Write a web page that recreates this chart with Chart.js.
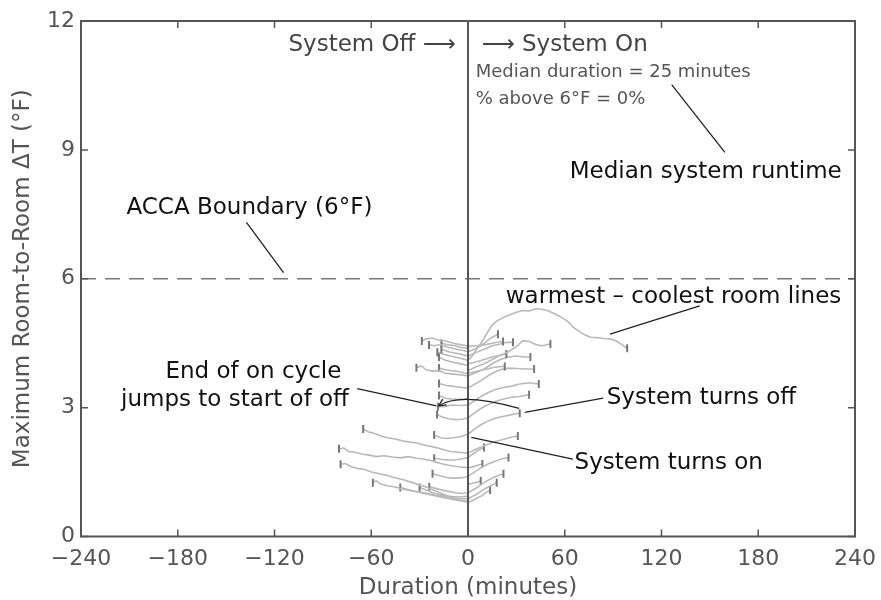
<!DOCTYPE html>
<html>
<head>
<meta charset="utf-8">
<script src="https://cdn.jsdelivr.net/npm/chart.js@4"></script>
<style>
  html, body { margin: 0; background: #fff; }
  canvas { display: block; }
</style>
</head>
<body>
<canvas id="chart" width="881" height="600"></canvas>
<script>
// axis ticks
const xTicks = [-240, -180, -120, -60, 0, 60, 120, 180, 240];
const yTicks = [0, 3, 6, 9, 12];
const accaLimit = 6;

// off cycles: [minutes before turn-on, max room-to-room dT]
const offCycles = [
  [[-28.6,4.55],[-26,4.6],[-22,4.62],[-18,4.57],[-14,4.55],[-9,4.5],[-4,4.46],[0,4.44]],
  [[-24.2,4.46],[-21,4.44],[-17,4.47],[-12,4.4],[-7,4.36],[-3,4.33],[0,4.3]],
  [[-16.5,4.5],[-12,4.46],[-8,4.44],[-4,4.4],[0,4.38]],
  [[-16.5,4.36],[-12,4.3],[-8,4.27],[-4,4.24],[0,4.2]],
  [[-19,4.29],[-15,4.24],[-11,4.2],[-6,4.16],[-2,4.12],[0,4.1]],
  [[-18,4.18],[-14,4.1],[-10,4.06],[-6,4.03],[-2,4.0],[0,3.98]],
  [[-32,3.93],[-29,3.97],[-26,3.88],[-22,3.85],[-18,3.86],[-14,3.8],[-9,3.78],[-4,3.76],[0,3.74]],
  [[-18,3.92],[-14,3.88],[-10,3.86],[-6,3.84],[-2,3.8],[0,3.8]],
  [[-18,3.56],[-14,3.52],[-10,3.5],[-6,3.48],[-2,3.46],[0,3.47]],
  [[-18,3.28],[-14,3.22],[-10,3.2],[-6,3.19],[-2,3.2],[0,3.22]],
  [[-18.6,3.02],[-14,3.03],[-10,3.06],[-5,3.05],[0,3.06]],
  [[-19.2,2.84],[-16,2.78],[-12,2.74],[-8,2.72],[-4,2.73],[0,2.76]],
  [[-65,2.5],[-62,2.44],[-58,2.4],[-54,2.34],[-50,2.3],[-45,2.27],[-40,2.22],[-36,2.2],[-31,2.17],[-26,2.12],[-21,2.08],[-16,2.03],[-11,1.98],[-6,1.96],[0,1.94]],
  [[-21,2.36],[-17,2.3],[-13,2.28],[-9,2.3],[-5,2.32],[0,2.38]],
  [[-80,2.04],[-77,2.06],[-74,1.98],[-70,1.96],[-66,1.92],[-62,1.9],[-57,1.86],[-52,1.88],[-47,1.85],[-42,1.83],[-37,1.86],[-32,1.82],[-27,1.8],[-22,1.76],[-17,1.7],[-12,1.66],[-7,1.63],[0,1.6]],
  [[-21,1.82],[-17,1.8],[-13,1.78],[-9,1.78],[-5,1.8],[0,1.84]],
  [[-79,1.68],[-76,1.7],[-72,1.62],[-68,1.58],[-64,1.56],[-60,1.5],[-55,1.46],[-50,1.42],[-45,1.36],[-40,1.32],[-35,1.26],[-30,1.2],[-25,1.14],[-20,1.06],[-15,0.98],[-10,0.9],[-5,0.84],[0,0.8]],
  [[-22,1.46],[-18,1.42],[-14,1.38],[-10,1.36],[-6,1.36],[-2,1.38],[0,1.4]],
  [[-59,1.25],[-57,1.3],[-54,1.22],[-50,1.18],[-46,1.16],[-42,1.12],[-37,1.08],[-32,1.04],[-27,1.0],[-22,0.96],[-17,0.92],[-12,0.88],[-6,0.84],[0,0.82]],
  [[-42,1.14],[-38,1.1],[-34,1.06],[-30,1.04],[-25,1.0],[-20,0.96],[-15,0.93],[-10,0.9],[-5,0.88],[0,0.88]],
  [[-30,1.14],[-26,1.08],[-22,1.02],[-18,0.98],[-14,0.95],[-10,0.93],[-5,0.92],[0,0.94]],
  [[-24,1.16],[-20,1.12],[-16,1.08],[-12,1.05],[-8,1.02],[-4,1.0],[0,1.02]],
];

// on cycles: [minutes after turn-on, max room-to-room dT]
const onCycles = [
  [[0,4.1],[3,4.22],[6,4.4],[9,4.55],[12,4.75],[15,4.92],[18,5.02],[22,5.1],[26,5.16],[30,5.22],[34,5.26],[38,5.25],[42,5.3],[46,5.29],[50,5.25],[54,5.18],[58,5.1],[62,5.0],[65,4.88],[68,4.8],[72,4.7],[76,4.64],[80,4.63],[84,4.61],[88,4.6],[92,4.55],[95,4.48],[98.7,4.38]],
  [[0,3.86],[5,3.95],[10,4.02],[15,4.12],[20,4.22],[25,4.3],[30,4.42],[34,4.56],[38,4.54],[42,4.47],[46,4.44],[51.1,4.48]],
  [[0,4.3],[4,4.36],[8,4.44],[12,4.56],[15,4.64],[18.6,4.71]],
  [[0,4.42],[5,4.44],[10,4.46],[15,4.5],[18,4.52],[21.7,4.54]],
  [[0,4.2],[5,4.28],[10,4.36],[15,4.44],[20,4.48],[24,4.52],[27.9,4.52]],
  [[0,4.02],[5,4.06],[10,4.12],[15,4.18],[20,4.22],[23.8,4.25]],
  [[0,3.74],[5,3.82],[10,3.9],[15,4.02],[20,4.12],[25,4.18],[30,4.2],[35,4.18],[38.7,4.18]],
  [[0,3.8],[5,3.84],[10,3.88],[15,3.93],[19,3.95],[22.8,3.96]],
  [[0,3.46],[5,3.56],[10,3.68],[15,3.8],[20,3.88],[25,3.92],[30,3.91],[35,3.9],[41,3.9]],
  [[0,3.06],[4,3.16],[8,3.26],[12,3.34],[17,3.42],[22,3.47],[27,3.5],[32,3.55],[38,3.58],[43.9,3.55]],
  [[0,2.76],[4,2.88],[8,2.98],[12,3.06],[17,3.14],[22,3.2],[27,3.24],[32,3.26],[37.9,3.3]],
  [[0,2.38],[4,2.5],[8,2.6],[12,2.68],[16,2.74],[20,2.78],[25,2.82],[29,2.85],[32.1,2.87]],
  [[0,1.94],[4,2.02],[8,2.08],[12,2.14],[16,2.2],[20,2.24],[24,2.28],[28,2.32],[30.9,2.34]],
  [[0,1.84],[3,1.92],[6,2.0],[9.9,2.07]],
  [[0,1.4],[4,1.5],[8,1.6],[12,1.68],[16,1.74],[20,1.8],[25.1,1.84]],
  [[0,1.6],[3,1.62],[6,1.66],[8.9,1.69]],
  [[0,1.02],[4,1.1],[8,1.2],[12,1.3],[16,1.38],[19,1.42],[22,1.46]],
  [[0,1.22],[3,1.24],[6,1.27],[7.9,1.29]],
  [[0,0.88],[3,0.94],[6,1.0],[9,1.08],[12,1.14],[15,1.2],[17.8,1.25]],
  [[0,0.8],[3,0.84],[6,0.9],[9,0.96],[11,1.02],[13.7,1.08]],
];

// annotation texts, placed in data units
const labels = [
  { text: "System Off \u27F6", x: -7.6, y: 11.45, align: "right", size: 23, color: "#444" },
  { text: "\u27F6 System On", x: 8.5, y: 11.45, align: "left", size: 23, color: "#444" },
  { text: "Median duration = 25 minutes", x: 4.8, y: 10.8, align: "left", size: 18, color: "#555" },
  { text: "% above 6\u00B0F = 0%", x: 4.8, y: 10.17, align: "left", size: 18, color: "#555" },
  { text: "Median system runtime", x: 63.1, y: 8.49, align: "left", size: 23, color: "#111" },
  { text: "ACCA Boundary (6\u00B0F)", x: -211.8, y: 7.65, align: "left", size: 23, color: "#111" },
  { text: "warmest \u2013 coolest room lines", x: 23.4, y: 5.58, align: "left", size: 23, color: "#111" },
  { text: "End of on cycle", x: -133.1, y: 3.82, align: "center", size: 23, color: "#111" },
  { text: "jumps to start of off", x: -144.5, y: 3.18, align: "center", size: 23, color: "#111" },
  { text: "System turns off", x: 86.0, y: 3.23, align: "left", size: 23, color: "#111" },
  { text: "System turns on", x: 66.1, y: 1.71, align: "left", size: 23, color: "#111" },
];

// leader lines [x1, y1, x2, y2] in data units
const leaders = [
  [126.3, 10.52, 159.3, 8.94],
  [-137.4, 7.31, -114.4, 6.14],
  [-68.7, 3.44, -19.6, 3.04],
  [35.2, 2.89, 83.8, 3.22],
  [2.1, 2.31, 65.0, 1.80],
  [88, 4.71, 143.7, 5.37],
];

// curved arrow: start, control, end
const jumpArrow = [[31.7, 2.98], [-4.8, 3.37], [-18.2, 3.04]];

const FONT = "'DejaVu Sans', sans-serif";
const toXY = arr => arr.map(p => ({ x: p[0], y: p[1] }));

const datasets = [];
// system on/off divider and ACCA boundary
datasets.push({
  data: [{ x: 0, y: yTicks[0] }, { x: 0, y: yTicks[yTicks.length - 1] }],
  showLine: true, borderColor: "#555", borderWidth: 2, pointRadius: 0,
});
datasets.push({
  data: [{ x: xTicks[0], y: accaLimit }, { x: xTicks[xTicks.length - 1], y: accaLimit }],
  showLine: true, borderColor: "#777", borderWidth: 1.5, borderDash: [15, 9], pointRadius: 0,
});

const lineStyle = {
  showLine: true,
  borderColor: "#b9b9b9",
  borderWidth: 1.6,
  pointStyle: "line",
  rotation: 90,
  pointBorderColor: "#777",
  pointBorderWidth: 2,
  pointHoverRadius: 0,
};
offCycles.forEach(c => {
  datasets.push(Object.assign({}, lineStyle, {
    data: toXY(c),
    pointRadius: ctx => (ctx.dataIndex === 0 ? 4 : 0),
  }));
});
onCycles.forEach(c => {
  datasets.push(Object.assign({}, lineStyle, {
    data: toXY(c),
    pointRadius: ctx => (ctx.dataIndex === c.length - 1 ? 4 : 0),
  }));
});

const frame = {
  id: "frame",
  afterDraw(chart) {
    const { ctx, chartArea: a, scales } = chart;
    const sx = scales.x, sy = scales.y;
    ctx.save();
    ctx.strokeStyle = "#555";
    ctx.lineWidth = 1.5;
    // inward ticks on all sides
    xTicks.forEach(v => {
      const px = sx.getPixelForValue(v);
      ctx.beginPath();
      ctx.moveTo(px, a.bottom); ctx.lineTo(px, a.bottom - 7);
      ctx.moveTo(px, a.top); ctx.lineTo(px, a.top + 7);
      ctx.stroke();
    });
    yTicks.forEach(v => {
      const py = sy.getPixelForValue(v);
      ctx.beginPath();
      ctx.moveTo(a.left, py); ctx.lineTo(a.left + 7, py);
      ctx.moveTo(a.right, py); ctx.lineTo(a.right - 7, py);
      ctx.stroke();
    });
    ctx.lineWidth = 2;
    ctx.strokeRect(a.left, a.top, a.right - a.left, a.bottom - a.top);

    // leader lines
    ctx.strokeStyle = "#222";
    ctx.lineWidth = 1.3;
    leaders.forEach(l => {
      ctx.beginPath();
      ctx.moveTo(sx.getPixelForValue(l[0]), sy.getPixelForValue(l[1]));
      ctx.lineTo(sx.getPixelForValue(l[2]), sy.getPixelForValue(l[3]));
      ctx.stroke();
    });

    // curved arrow from end of on cycle to start of off cycle
    const p = jumpArrow.map(q => [sx.getPixelForValue(q[0]), sy.getPixelForValue(q[1])]);
    ctx.beginPath();
    ctx.moveTo(p[0][0], p[0][1]);
    ctx.quadraticCurveTo(p[1][0], p[1][1], p[2][0], p[2][1]);
    ctx.stroke();
    const ang = Math.atan2(p[2][1] - p[1][1], p[2][0] - p[1][0]);
    ctx.beginPath();
    [0.45, -0.45].forEach(d => {
      ctx.moveTo(p[2][0], p[2][1]);
      ctx.lineTo(p[2][0] - 8 * Math.cos(ang + d), p[2][1] - 8 * Math.sin(ang + d));
    });
    ctx.stroke();

    // texts
    ctx.textBaseline = "middle";
    labels.forEach(t => {
      ctx.font = t.size + "px " + FONT;
      ctx.fillStyle = t.color;
      ctx.textAlign = t.align;
      ctx.fillText(t.text, sx.getPixelForValue(t.x), sy.getPixelForValue(t.y));
    });
    ctx.restore();
  },
};

const fmt = v => (v < 0 ? "\u2212" + Math.abs(v) : String(v));

new Chart(document.getElementById("chart"), {
  type: "scatter",
  data: { datasets },
  options: {
    responsive: false,
    animation: false,
    layout: { padding: { top: 21, right: 26, left: 0, bottom: 0 } },
    plugins: { legend: { display: false }, tooltip: { enabled: false } },
    elements: { line: { tension: 0 } },
    scales: {
      x: {
        type: "linear",
        min: xTicks[0],
        max: xTicks[xTicks.length - 1],
        afterBuildTicks: s => { s.ticks = xTicks.map(v => ({ value: v })); },
        grid: { display: false },
        border: { display: false },
        ticks: { color: "#555", font: { family: FONT, size: 22 }, padding: 2, callback: fmt, maxRotation: 0 },
        title: { display: true, text: "Duration (minutes)", color: "#555", font: { family: FONT, size: 23, lineHeight: 1.0 }, padding: { top: 0, bottom: 0 } },
        afterFit: s => { s.height = 63.5; s.paddingLeft = 0; s.paddingRight = 0; },
      },
      y: {
        type: "linear",
        min: yTicks[0],
        max: yTicks[yTicks.length - 1],
        afterBuildTicks: s => { s.ticks = yTicks.map(v => ({ value: v })); },
        grid: { display: false },
        border: { display: false },
        ticks: { color: "#555", font: { family: FONT, size: 22 }, padding: -2, callback: fmt },
        title: { display: true, text: "Maximum Room-to-Room \u0394T (\u00B0F)", color: "#555", font: { family: FONT, size: 23 }, padding: { top: 9, bottom: 9 } },
        afterFit: s => { s.width = 81; s.paddingTop = 0; s.paddingBottom = 0; },
      },
    },
  },
  plugins: [frame],
});
</script>
</body>
</html>
